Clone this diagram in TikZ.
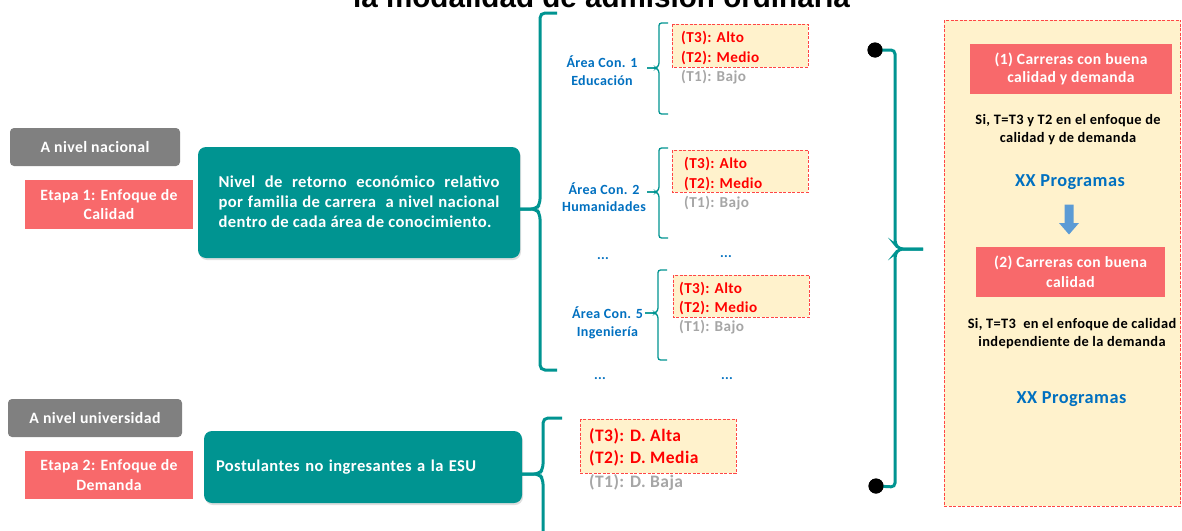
\documentclass[tikz,border=0pt]{standalone}
\usepackage{fontspec}
\setmainfont{Carlito}[LetterSpace=2.5]
\newfontfamily\titlefont{Liberation Sans}
\usetikzlibrary{shadows}
\definecolor{tealc}{RGB}{0,148,145}
\definecolor{grayc}{RGB}{128,128,128}
\definecolor{pinkc}{RGB}{248,105,107}
\definecolor{bluec}{RGB}{0,112,192}
\definecolor{redc}{RGB}{255,0,0}
\definecolor{ltgray}{RGB}{166,166,166}
\definecolor{ltyel}{RGB}{255,242,204}
\definecolor{arrowc}{RGB}{91,155,213}
\definecolor{dashred}{RGB}{255,70,70}
\begin{document}
\begin{tikzpicture}[x=1pt,y=-1pt,
  graybox/.style={fill=grayc, rounded corners=4pt, text=white, inner sep=0pt,
    font=\bfseries\fontsize{15.8}{18}\selectfont},
  pinkbox/.style={fill=pinkc, text=white, inner sep=0pt, align=center,
    font=\bfseries\fontsize{15.7}{19.5}\selectfont},
  tealbox/.style={fill=tealc, rounded corners=8pt, text=white,
    drop shadow={shadow xshift=1pt, shadow yshift=-2pt, opacity=0.25},
    font=\bfseries\fontsize{16.6}{20}\selectfont},
  dbox/.style={draw=dashred, fill=ltyel, dash pattern=on 3pt off 1.5pt, line width=0.8pt},
  bigbrace/.style={draw=tealc, line width=3pt, rounded corners=5pt},
  smallbrace/.style={draw=tealc, line width=1.3pt, rounded corners=2.5pt},
  ttxt/.style={anchor=base west, inner sep=0pt, font=\bfseries\fontsize{15.2}{17}\selectfont},
  dtxt/.style={anchor=base west, inner sep=0pt, font=\bfseries\fontsize{17.5}{19}\selectfont},
  area/.style={anchor=base, inner sep=0pt, align=center, text=bluec,
    font=\bfseries\fontsize{14}{17.5}\selectfont},
  dots/.style={anchor=base, inner sep=0pt, text=bluec, font=\bfseries\fontsize{14}{16}\selectfont},
  rtxt/.style={anchor=base, inner sep=0pt, align=center,
    font=\bfseries\fontsize{14.4}{18.4}\selectfont},
  prog/.style={anchor=base, inner sep=0pt, text=bluec, font=\bfseries\fontsize{18.3}{20}\selectfont},
  blackdot/.style={circle, fill=black, minimum size=15pt, inner sep=0pt}
]
\path[use as bounding box] (0,0) rectangle (1182,530);
\fill[white] (0,0) rectangle (1182,530);
\clip (0,0) rectangle (1182,530);

% title (cut off at top, as in the reference)
\node[anchor=base west, inner sep=0pt, font=\titlefont\bfseries\fontsize{29.6}{32}\selectfont]
  (title) at (353,7) {la modalidad de admisión ordinaria};

% left column
\node[graybox, minimum width=170pt, minimum height=38pt] (nac) at (95,147) {A nivel nacional};
\node[pinkbox, minimum width=168pt, minimum height=49pt] (et1) at (109,204.5) {Etapa 1: Enfoque de\\Calidad};
\node[tealbox, minimum width=322pt, minimum height=111pt, inner xsep=20pt, align=left] (teal1) at (359,202.5)
  {\makebox[281pt][s]{Nivel de retorno económico relativo}\\
   \makebox[281pt][s]{por familia de carrera\ \ a nivel nacional}\\
   dentro de cada área de conocimiento.\rule[-2.5pt]{0pt}{0pt}};

\node[graybox, minimum width=174pt, minimum height=38pt] (univ) at (95,418) {A nivel universidad};
\node[pinkbox, minimum width=168pt, minimum height=48pt] (et2) at (109,475) {Etapa 2: Enfoque de\\Demanda};
\node[tealbox, minimum width=318pt, minimum height=72pt, inner xsep=12pt, text width=294pt, align=left,
  font=\bfseries\fontsize{16.5}{20}\selectfont] (teal2) at (363,467)
  {Postulantes no ingresantes a la ESU};

% big brace (quality)
\coordinate (bb1) at (557,13);
\coordinate (bb2) at (557,370);
\draw[bigbrace] (bb1) -- (540,13) -- (540,204) -- (536,209) -- ([yshift=-6.5pt]teal1.east);
\draw[bigbrace] ([yshift=-6.5pt]teal1.east) -- (536,209) -- (540,214) -- (540,370) -- (bb2);

% area labels (base = last line)
\node[area] (a1) at (602,85) {Área Con. 1\\Educación};
\node[area] (a2) at (604,211.7) {Área Con. 2\\Humanidades};
\node[area] (a5) at (607.5,336) {Área Con. 5\\Ingeniería};
\node[dots] (dd1) at (603,259) {...};
\node[dots] (dd2) at (726,257) {...};
\node[dots] (dd3) at (600,379) {...};
\node[dots] (dd4) at (727,379) {...};

% small braces
\coordinate (s1t) at (668,23);   \coordinate (s1b) at (668,114);  \coordinate (s1m) at (647,68);
\coordinate (s2t) at (668,148);  \coordinate (s2b) at (668,238);  \coordinate (s2m) at (647,192);
\coordinate (s3t) at (667,270);  \coordinate (s3b) at (667,360);  \coordinate (s3m) at (645,313);
\draw[smallbrace] (s1t) -- (659,23) -- (659,65.5) -- (656,68) -- (s1m);
\draw[smallbrace] (s1m) -- (656,68) -- (659,70.5) -- (659,114) -- (s1b);
\draw[smallbrace] (s2t) -- (659,148) -- (659,189.5) -- (656,192) -- (s2m);
\draw[smallbrace] (s2m) -- (656,192) -- (659,194.5) -- (659,238) -- (s2b);
\draw[smallbrace] (s3t) -- (658,270) -- (658,310.5) -- (655,313) -- (s3m);
\draw[smallbrace] (s3m) -- (655,313) -- (658,315.5) -- (658,360) -- (s3b);

% level boxes
\path[dbox] (672,24) rectangle (808,67);
\node[ttxt, text=redc] (g1a) at (681,42) {(T3): Alto};
\node[ttxt, text=redc] (g1b) at (681,62) {(T2): Medio};
\node[ttxt, text=ltgray] (g1c) at (681,81) {(T1): Bajo};

\path[dbox] (672,150) rectangle (808,192);
\node[ttxt, text=redc] (g2a) at (684,168) {(T3): Alto};
\node[ttxt, text=redc] (g2b) at (684,188) {(T2): Medio};
\node[ttxt, text=ltgray] (g2c) at (684,207) {(T1): Bajo};

\path[dbox] (673,275) rectangle (809,317);
\node[ttxt, text=redc] (g3a) at (679,293) {(T3): Alto};
\node[ttxt, text=redc] (g3b) at (679,312) {(T2): Medio};
\node[ttxt, text=ltgray] (g3c) at (679,331) {(T1): Bajo};

% demand brace
\coordinate (db1) at (562,418);
\coordinate (db2) at (543,545);
\draw[bigbrace] (db1) -- (543,418) -- (543,469) -- (539,474) -- ([yshift=-7pt]teal2.east);
\draw[bigbrace] ([yshift=-7pt]teal2.east) -- (539,474) -- (543,479) -- (db2);

\path[dbox] (580,419) rectangle (736,473);
\node[dtxt, text=redc] (d3) at (589,441) {(T3): D. Alta};
\node[dtxt, text=redc] (d2) at (589,463) {(T2): D. Media};
\node[dtxt, text=ltgray] (d1) at (589,487) {(T1): D. Baja};

% right bracket with dots
\node[blackdot] (dot1) at (875,50) {};
\node[blackdot] (dot2) at (876,486) {};
\coordinate (rtip) at (923,249);
\draw[bigbrace, rounded corners=4pt] (dot1.center) -- (895,50) -- (895,244) -- (899,249) -- (rtip);
\draw[bigbrace, rounded corners=4pt] (rtip) -- (899,249) -- (895,254) -- (895,487) -- (dot2.center);
\node[blackdot] at (dot1) {};
\node[blackdot] at (dot2) {};

% right result panel
\path[dbox] (944,20) rectangle (1180.5,506);
\node[pinkbox, minimum width=202pt, minimum height=50pt, font=\bfseries\fontsize{15.6}{18.5}\selectfont] (r1) at (1071,69)
  {(1) Carreras con buena\\calidad y demanda};
\node[rtxt] (s1) at (1068,142.7) {Si, T=T3 y T2 en el enfoque de\\calidad y de demanda};
\node[prog] (p1) at (1070,186) {XX Programas};
\fill[arrowc] (1064.5,204.5) -- (1073.5,204.5) -- (1073.5,223) -- (1079,223) -- (1069,234.5)
  -- (1059,223) -- (1064.5,223) -- cycle;
\node[pinkbox, minimum width=189pt, minimum height=50pt, font=\bfseries\fontsize{15.6}{19.5}\selectfont] (r2) at (1070.5,272)
  {(2) Carreras con buena\\calidad};
\node[rtxt] (s2) at (1072,346.7) {Si, T=T3\ \ en el enfoque de calidad\\independiente de la demanda};
\node[prog] (p2) at (1071.5,403.3) {XX Programas};
\end{tikzpicture}
\end{document}
